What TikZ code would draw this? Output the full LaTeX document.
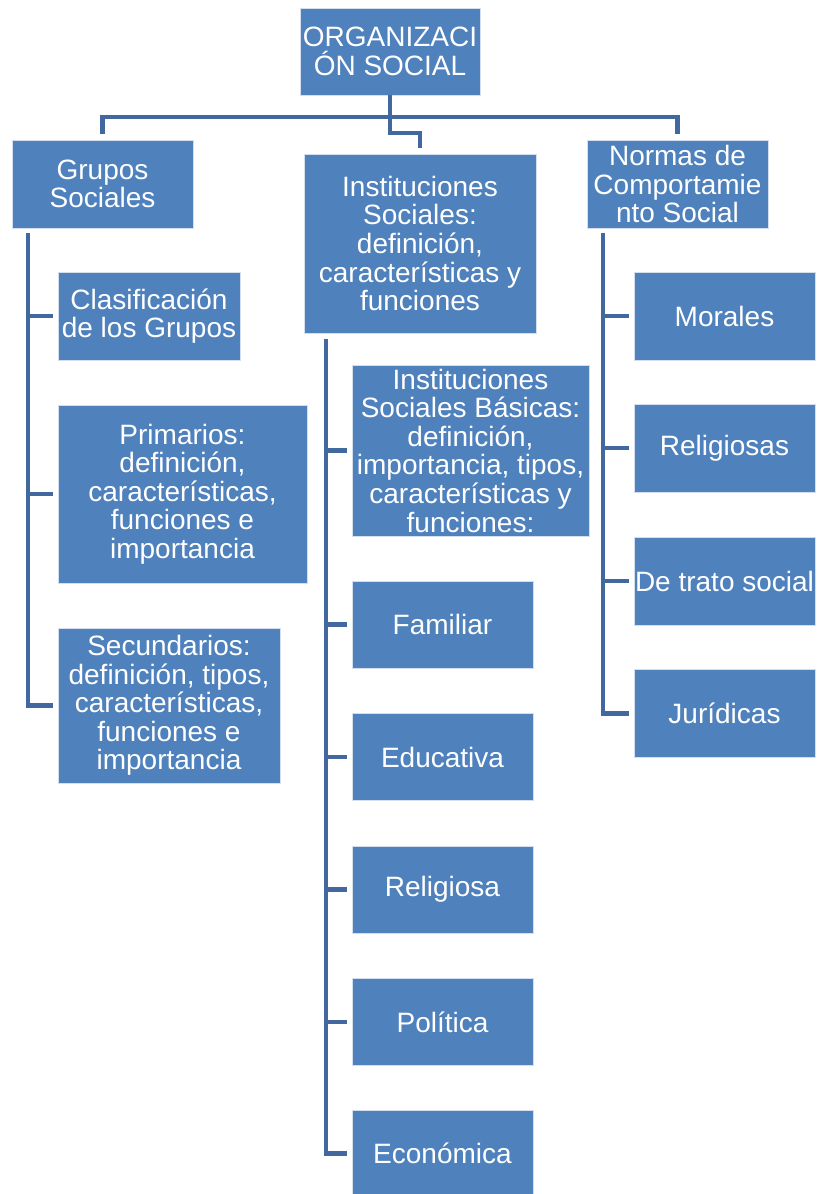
\documentclass[tikz,border=0pt]{standalone}
\usepackage{fontspec}
\setmainfont{Liberation Sans}
\definecolor{boxfill}{RGB}{79,129,189}
\definecolor{linecol}{RGB}{65,105,160}
\begin{document}
\begin{tikzpicture}[x=1pt,y=-1pt,
  box/.style={fill=boxfill, draw=white!75!boxfill, line width=0.6pt, text=white, inner sep=0pt, outer sep=0pt,
    align=center, font=\fontsize{28}{28.6}\selectfont},
  conn/.style={draw=linecol, line width=4.5pt}]
\useasboundingbox (0,0) rectangle (817,1194);
\begin{scope}
\clip (0,0) rectangle (817,1194);
% top level
\node[box, minimum width=180, minimum height=87] (root) at (390,51.5) {ORGANIZACI\\ÓN SOCIAL};
\node[box, minimum width=181, minimum height=88] (grupos) at (102.5,184) {Grupos\\Sociales};
\node[box, minimum width=232, minimum height=179] (inst) at (420,243.5) {Instituciones\\Sociales:\\definición,\\características y\\funciones};
\node[box, minimum width=181, minimum height=88] (normas) at (677.5,184) {Normas de\\Comportamie\\nto Social};
% left column
\node[box, minimum width=182, minimum height=88] (clas) at (149,316) {Clasificación\\de los Grupos};
\node[box, minimum width=249, minimum height=178] (prim) at (182.5,494) {Primarios:\\definición,\\características,\\funciones e\\importancia};
\node[box, minimum width=222, minimum height=155] (sec) at (169,705.5) {Secundarios:\\definición, tipos,\\características,\\funciones e\\importancia};
% middle column
\node[box, minimum width=237, minimum height=171] (basic) at (470.5,450.5) {Instituciones\\Sociales Básicas:\\definición,\\importancia, tipos,\\características y\\funciones:};
\node[box, minimum width=181, minimum height=87] (fam) at (442.5,624.5) {Familiar};
\node[box, minimum width=181, minimum height=87] (edu) at (442.5,757) {Educativa};
\node[box, minimum width=181, minimum height=87] (rel) at (442.5,889.5) {Religiosa};
\node[box, minimum width=181, minimum height=87] (pol) at (442.5,1022) {Política};
\node[box, minimum width=181, minimum height=87] (eco) at (442.5,1153.5) {Económica};
% right column
\node[box, minimum width=181, minimum height=88] (mor) at (724.5,316) {Morales};
\node[box, minimum width=181, minimum height=88] (relg) at (724.5,448) {Religiosas};
\node[box, minimum width=181, minimum height=88] (trato) at (724.5,581) {De trato social};
\node[box, minimum width=181, minimum height=88] (jur) at (724.5,713.5) {Jurídicas};
\end{scope}
% top connectors
\coordinate (bus) at (390,117);
\draw[conn] (root.south) -- (bus);
\draw[conn] (bus) -| ([yshift=6pt]grupos.north);
\draw[conn] (bus) -| ([yshift=6pt]normas.north);
\draw[conn] (root.south) -- ++(0,38) -| ([yshift=6pt]inst.north);
% left spine
\coordinate (spL) at (28,233);
\draw[conn] (spL) |- ([xshift=-5pt]sec.west);
\draw[conn] (spL |- clas.west) -- ([xshift=-5pt]clas.west);
\draw[conn] (spL |- prim.west) -- ([xshift=-5pt]prim.west);
% middle spine
\coordinate (spM) at (326,339);
\draw[conn] (spM) |- ([xshift=-5pt]eco.west);
\draw[conn] (spM |- basic.west) -- ([xshift=-5pt]basic.west);
\draw[conn] (spM |- fam.west) -- ([xshift=-5pt]fam.west);
\draw[conn] (spM |- edu.west) -- ([xshift=-5pt]edu.west);
\draw[conn] (spM |- rel.west) -- ([xshift=-5pt]rel.west);
\draw[conn] (spM |- pol.west) -- ([xshift=-5pt]pol.west);
% right spine
\coordinate (spR) at (603,233);
\draw[conn] (spR) |- ([xshift=-5pt]jur.west);
\draw[conn] (spR |- mor.west) -- ([xshift=-5pt]mor.west);
\draw[conn] (spR |- relg.west) -- ([xshift=-5pt]relg.west);
\draw[conn] (spR |- trato.west) -- ([xshift=-5pt]trato.west);
\end{tikzpicture}
\end{document}
